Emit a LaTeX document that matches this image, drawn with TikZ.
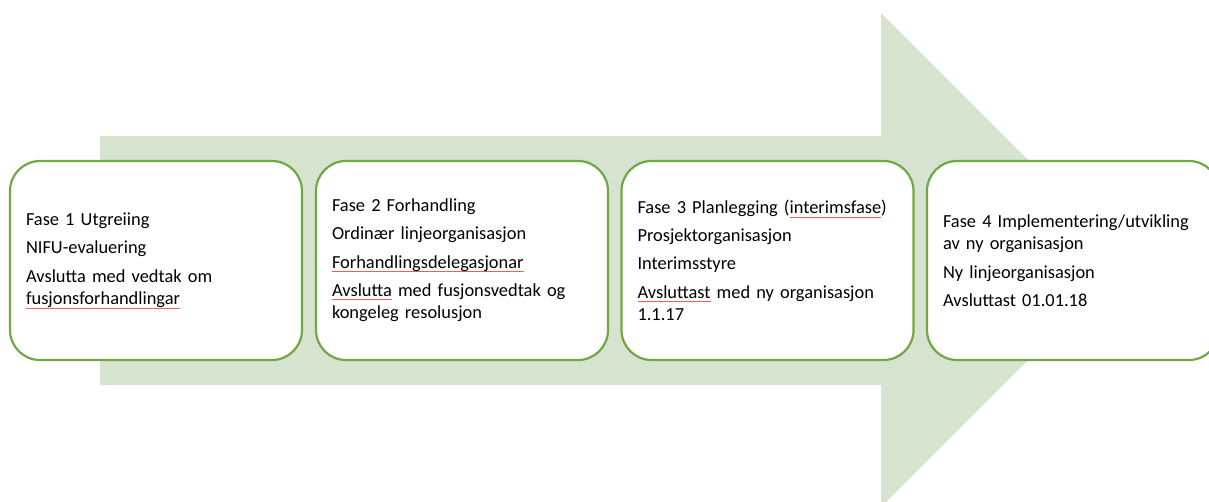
\documentclass[tikz,border=0pt]{standalone}
\usepackage{fontspec}
\setmainfont{Carlito}
\definecolor{arrowfill}{RGB}{214,227,207}
\definecolor{boxline}{RGB}{112,168,70}
\definecolor{spellred}{RGB}{235,95,95}
\newsavebox\sqbox
\newlength\sqlen
\newcommand\squig[1]{\leavevmode\sbox\sqbox{#1}\setlength\sqlen{\wd\sqbox}\tikz[overlay,baseline=0pt,sharp corners,line width=0pt]{\fill[spellred,sharp corners] (0pt,-4.2pt) rectangle (\sqlen,-3.0pt);}\usebox\sqbox}
\begin{document}
\begin{tikzpicture}[x=1pt,y=-1pt,
  phasebox/.style={draw=boxline, line width=2.2pt, fill=white, rounded corners=30pt,
    minimum width=292pt, minimum height=199pt, text width=260pt, inner xsep=16pt,
    align=left, font=\fontsize{18.4}{22.7}\selectfont, text=black}]
\useasboundingbox (0,0) rectangle (1209,501);
\clip (0,0) rectangle (1209,501);
\fill[arrowfill] (100,136) -- (881,136) -- (881,13) -- (1128,260) -- (881,507) -- (881,385) -- (100,385) -- cycle;
\node[phasebox] (f1) at (156,260.5) {Fase 1 Utgreiing\\[5.5pt]
NIFU-evaluering\\[5.5pt]
Avslutta med vedtak om\\ \squig{fusjonsforhandlingar}};
\node[phasebox] (f2) at (462,260.5) {Fase 2 Forhandling\\[5.5pt]
Ordinær linjeorganisasjon\\[5.5pt]
\squig{Forhandlingsdelegasjonar}\\[5.5pt]
\squig{Avslutta} med fusjonsvedtak og\\ kongeleg resolusjon};
\node[phasebox] (f3) at (767.5,260.5) {Fase 3 Planlegging (\squig{interimsfase})\\[5.5pt]
Prosjektorganisasjon\\[5.5pt]
Interimsstyre\\[5.5pt]
\squig{Avsluttast} med ny organisasjon\\ 1.1.17};
\node[phasebox] (f4) at (1073,260.5) {Fase 4 Implementering/utvikling\\ av ny organisasjon\\[5.5pt]
Ny linjeorganisasjon\\[5.5pt]
Avsluttast 01.01.18};
\end{tikzpicture}
\end{document}
